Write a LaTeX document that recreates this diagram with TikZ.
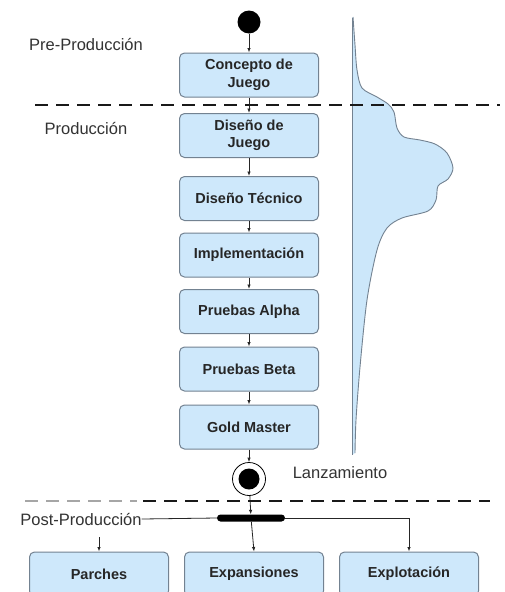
\documentclass[tikz,border=0pt]{standalone}
\usepackage{fontspec}
\setmainfont{Liberation Sans}
\usetikzlibrary{arrows.meta}
\definecolor{boxfill}{RGB}{206,232,251}
\definecolor{boxdraw}{RGB}{115,130,145}
\definecolor{curvefill}{RGB}{204,231,250}
\begin{document}
\begin{tikzpicture}[x=1pt,y=-1pt,
  stagebox/.style={draw=boxdraw, line width=1pt, fill=boxfill, rounded corners=5pt,
    minimum width=139pt, minimum height=44pt, align=center, inner sep=0pt,
    font=\fontsize{14.5}{17.5}\selectfont\bfseries, text=black!85},
  flow/.style={-{Latex[length=4.5pt,width=3.5pt]}, line width=0.8pt, draw=black!85},
  lbl/.style={font=\fontsize{16.5}{20}\selectfont, text=black!80, inner sep=0pt},
  phaseline/.style={line width=2.6pt, dash pattern=on 13pt off 8pt, draw=black!90}]
\fill[white] (0,0) rectangle (505,592);
\clip (0,0) rectangle (505,592);

% density curve
\fill[curvefill] (352,455) -- (352,18) -- plot[smooth] coordinates {(353,17) (355,45) (357,70) (362,88) (377,97) (388,104) (394,112) (397,128) (404,137) (420,140) (435,144) (447,153) (453,168) (448,179) (438,186) (436,200) (428,211) (402,218) (387,228) (377,250) (367,300) (360,367) (356,420) (355,453)} -- cycle;
\draw[boxdraw, line width=0.9pt] plot[smooth] coordinates {(353,17) (355,45) (357,70) (362,88) (377,97) (388,104) (394,112) (397,128) (404,137) (420,140) (435,144) (447,153) (453,168) (448,179) (438,186) (436,200) (428,211) (402,218) (387,228) (377,250) (367,300) (360,367) (356,420) (355,453)};
\draw[boxdraw, line width=1pt] (352,18) -- (352,455);

% labels
\node[lbl] (pre) at (86,45) {Pre-Producción};
\node[lbl] (prod) at (86,129) {Producción};
\node[lbl] (lanz) at (340,473) {Lanzamiento};
\node[lbl] (post) at (81,519) {Post-Producción};

% start and stages
\node[circle, fill=black, minimum size=23pt, inner sep=0pt] (start) at (249,22) {};
\node[stagebox] (concepto) at (249,75) {Concepto de\\Juego};
\node[stagebox] (disjuego) at (249,135.5) {Diseño de\\Juego};
\node[stagebox] (distec) at (249,198.5) {Diseño Técnico};
\node[stagebox] (impl) at (249,255) {Implementación};
\node[stagebox] (alpha) at (249,311.5) {Pruebas Alpha};
\node[stagebox] (beta) at (249,369) {Pruebas Beta};
\node[stagebox] (gold) at (249,427) {Gold Master};

\node[circle, draw=black, line width=0.8pt, minimum size=33pt, inner sep=0pt] (fin) at (249,479) {};
\fill[black] (fin.center) circle (10.5pt);

\node[fill=black, rounded corners=3.5pt, minimum width=68pt, minimum height=7pt, inner sep=0pt] (bar) at (251,518) {};

\node[stagebox] (parches) at (99,574) {Parches};
\node[stagebox] (expan) at (254,574) {Expansiones};
\node[stagebox] (explot) at (409,574) {Explotación};

% flows
\draw[flow] (start) -- (concepto);
\draw[flow] (concepto) -- (disjuego);
\draw[flow] (disjuego) -- (distec);
\draw[flow] (distec) -- (impl);
\draw[flow] (impl) -- (alpha);
\draw[flow] (alpha) -- (beta);
\draw[flow] (beta) -- (gold);
\draw[flow] (gold) -- (fin);
\draw[flow] (fin) -- (bar);

\draw[line width=0.8pt, draw=black!85] (bar.west) -- (post.east);
\draw[flow] (bar) -- (expan.north);
\draw[flow] (bar.east) -| (explot.north);
\coordinate (pa) at (99,537);
\draw[flow] (pa) -- (parches.north);

% phase separators
\draw[phaseline] (35,105) -- (500,105);
\draw[line width=1.2pt, dash pattern=on 13pt off 8pt, draw=black!35] (25,501) -- (137,501);
\draw[phaseline] (143,501) -- (490,501);
\end{tikzpicture}
\end{document}
